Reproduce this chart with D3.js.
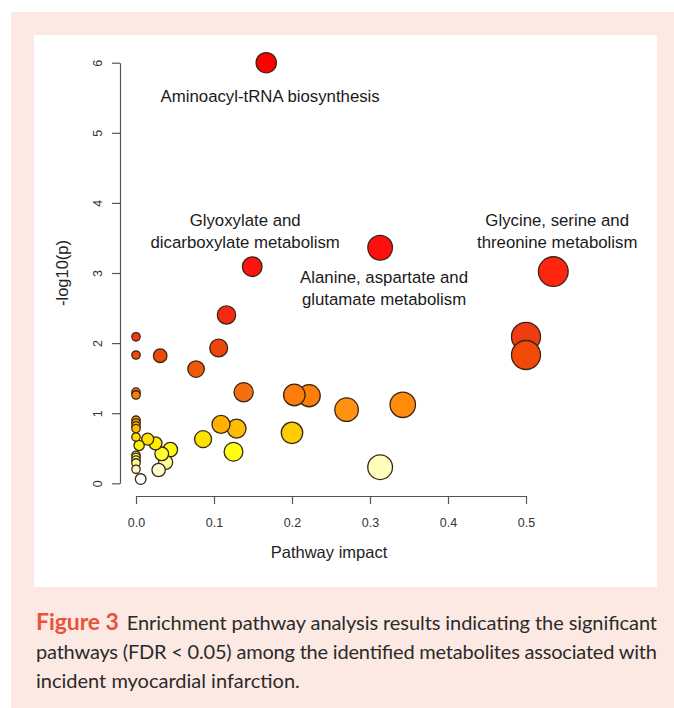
<!DOCTYPE html>
<meta charset="utf-8">
<style>
	body { margin: 0; padding: 0; background: #ffffff; }
	svg { display: block; }
	.axis path, .axis line { fill: none; stroke: #555555; stroke-width: 1.2px; }
	.axis text { fill: #333333; font: 12.5px 'Liberation Sans', Arial, sans-serif; }
	.title { fill: #222222; font: 16.5px 'Liberation Sans', Arial, sans-serif; }
	.note { fill: #1a1a1a; font: 16.8px 'Liberation Sans', Arial, sans-serif; }
	.dot { stroke: #3a2616; stroke-width: 1.3px; }
	.caption { fill: #2b2b2b; font: 20px Lato, 'Open Sans', sans-serif; }
	.caption .fig { fill: #e8543a; font-weight: 700; font-size: 23px; }
</style>
<body>
<svg class="chart"></svg>
</body>
<script src="https://d3js.org/d3.v7.min.js"></script>
<script>

// pathway impact (x) and -log10(p) (y)
var impact = [0.167, 0.313, 0.535, 0.149, 0.116, 0.106, 0.031, 0.000, 0.000, 0.077,
              0.500, 0.500, 0.000, 0.000, 0.138, 0.203, 0.222, 0.270, 0.342, 0.200,
              0.313, 0.109, 0.129, 0.086, 0.125,
              0.000, 0.000, 0.000, 0.000, 0.000, 0.004, 0.000, 0.000, 0.000, 0.000, 0.000, 0.006,
              0.015, 0.025, 0.044, 0.033, 0.038, 0.029];
var logp   = [6.00, 3.36, 3.02, 3.09, 2.40, 1.93, 1.82, 2.09, 1.83, 1.63,
              2.09, 1.83, 1.30, 1.26, 1.30, 1.26, 1.25, 1.05, 1.12, 0.72,
              0.23, 0.84, 0.78, 0.63, 0.45,
              0.90, 0.86, 0.82, 0.78, 0.66, 0.54, 0.40, 0.37, 0.33, 0.29, 0.20, 0.06,
              0.63, 0.57, 0.48, 0.42, 0.30, 0.19];

var xTicks = [0, 0.1, 0.2, 0.3, 0.4, 0.5];
var yTicks = [0, 1, 2, 3, 4, 5, 6];

// labelled pathways: text lines and where the label sits (data units)
var noteLines = [["Aminoacyl-tRNA biosynthesis"],
                 ["Glyoxylate and", "dicarboxylate metabolism"],
                 ["Alanine, aspartate and", "glutamate metabolism"],
                 ["Glycine, serine and", "threonine metabolism"]];
var noteX = [0.172, 0.140, 0.318, 0.540];
var noteY = [5.53, 3.60, 2.78, 3.60];

var captionLines = ["Enrichment pathway analysis results indicating the significant",
                    "pathways (FDR < 0.05) among the identified metabolites associated with",
                    "incident myocardial infarction."];

// heat colours by significance
var heatStops = [0.05, 0.20, 0.30, 0.45, 0.55, 0.65, 0.75, 0.85, 1.05, 1.25, 1.30, 1.62, 1.82, 2.00, 2.40, 3.00, 3.10, 6.00];
var heatCols  = ["#ffffff", "#ffffcc", "#ffff99", "#ffff14", "#fff000", "#ffdd00", "#ffc400", "#ffae00",
                 "#ff9210", "#ff8008", "#f27010", "#f05a08", "#f04a08", "#f04010", "#f62a10", "#ff2a10", "#ff1010", "#ff0000"];

var W = 674, H = 708;

var svg = d3.select(".chart")
    .attr("width", W)
    .attr("height", H);

svg.append("rect").attr("x", 11).attr("y", 12).attr("width", W - 11).attr("height", H - 12).attr("fill", "#fde9e3");
svg.append("rect").attr("x", 34).attr("y", 35).attr("width", 623).attr("height", 552).attr("fill", "#ffffff");

var x = d3.scaleLinear().domain([0, 0.5]).range([136, 526]);
var y = d3.scaleLinear().domain([0, 6]).range([483.3, 62.7]);
var r = d3.scaleSqrt().domain([0, 0.5]).range([4.2, 14.5]);
var heat = d3.scaleLinear().domain(heatStops).range(heatCols).clamp(true);

var xAxis = d3.axisBottom(x)
    .tickValues(xTicks)
    .tickFormat(d3.format(".1f"))
    .tickSize(8)
    .tickSizeOuter(0)
    .tickPadding(14);

var yAxis = d3.axisLeft(y)
    .tickValues(yTicks)
    .tickFormat(d3.format("d"))
    .tickSize(8)
    .tickSizeOuter(0);

svg.append("g")
    .attr("class", "axis")
    .attr("transform", "translate(0,496)")
    .call(xAxis);

var gy = svg.append("g")
    .attr("class", "axis")
    .attr("transform", "translate(120,0)")
    .call(yAxis);

gy.selectAll(".tick text")
    .attr("x", 0)
    .attr("y", 0)
    .attr("dy", "0.35em")
    .attr("text-anchor", "middle")
    .attr("transform", "translate(-22,0) rotate(-90)");

svg.append("text")
    .attr("class", "title")
    .attr("text-anchor", "middle")
    .attr("x", 329)
    .attr("y", 558)
    .text("Pathway impact");

svg.append("text")
    .attr("class", "title")
    .attr("text-anchor", "middle")
    .attr("transform", "translate(68,273) rotate(-90)")
    .text("-log10(p)");

var pts = impact.map(function (d, i) { return {x: d, y: logp[i]}; });

// smaller circles drawn last so they stay visible
pts.sort(function (a, b) { return r(b.x) - r(a.x); });

svg.selectAll(".dot")
    .data(pts)
  .enter().append("circle")
    .attr("class", "dot")
    .attr("cx", function (d) { return x(d.x); })
    .attr("cy", function (d) { return y(d.y); })
    .attr("r", function (d) { return r(d.x); })
    .attr("fill", function (d) { return heat(d.y); });

noteLines.forEach(function (lines, i) {
    var t = svg.append("text")
        .attr("class", "note")
        .attr("text-anchor", "middle")
        .attr("x", x(noteX[i]))
        .attr("y", y(noteY[i]));
    lines.forEach(function (s, j) {
        t.append("tspan")
            .attr("x", x(noteX[i]))
            .attr("dy", j === 0 ? (-(lines.length - 1) * 11 + 6) + "px" : "22px")
            .text(s);
    });
});

var cap = svg.append("g").attr("class", "caption");

var c1 = cap.append("text")
    .attr("x", 36)
    .attr("y", 630)
    .attr("textLength", 621)
    .attr("lengthAdjust", "spacing");
c1.append("tspan").attr("class", "fig").text("Figure 3");
c1.append("tspan").attr("dx", 8).text(captionLines[0]);

cap.append("text")
    .attr("x", 36)
    .attr("y", 659)
    .attr("textLength", 621)
    .attr("lengthAdjust", "spacing")
    .text(captionLines[1]);

cap.append("text")
    .attr("x", 36)
    .attr("y", 688)
    .text(captionLines[2]);

</script>
